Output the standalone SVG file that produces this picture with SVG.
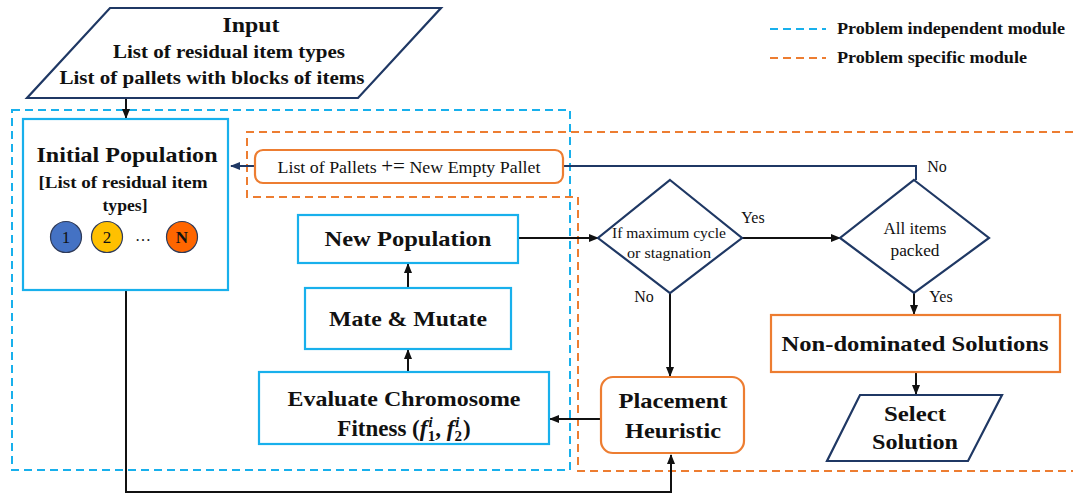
<svg xmlns="http://www.w3.org/2000/svg" width="1073" height="496" viewBox="0 0 1073 496" font-family="'Liberation Serif','DejaVu Serif',serif">
<style>
text{font-family:"Liberation Serif","DejaVu Serif",serif;fill:#111;text-anchor:middle}
.b{font-weight:bold}
.blue{fill:#fff;stroke:#18B0EC;stroke-width:2.2}
.org{fill:#fff;stroke:#ED7D31;stroke-width:2.2}
.navy{fill:#fff;stroke:#1F3864;stroke-width:2.2}
.dblue{fill:none;stroke:#18B0EC;stroke-width:2;stroke-dasharray:8 5}
.dorg{fill:none;stroke:#ED7D31;stroke-width:2;stroke-dasharray:8 5}
.c{fill:none;stroke:#111;stroke-width:2}
.cn{fill:none;stroke:#1F3864;stroke-width:2}
</style>
<defs>
<marker id="ah" markerWidth="10" markerHeight="10" refX="9" refY="5" orient="auto" markerUnits="userSpaceOnUse"><path d="M0,1 L10,5 L0,9 z" fill="#111"/></marker>
<marker id="ahn" markerWidth="10" markerHeight="10" refX="9" refY="5" orient="auto" markerUnits="userSpaceOnUse"><path d="M0,1 L10,5 L0,9 z" fill="#1F3864"/></marker>
</defs>
<rect width="1073" height="496" fill="#fff"/>

<g id="modules">
<rect class="dblue" x="12" y="110" width="558" height="360"/>
<path class="dorg" d="M1073,132 H247 V197 H578 V471 H1073"/>
</g>

<g id="legend">
<line class="dblue" x1="770" y1="29" x2="826" y2="29"/>
<text class="b" x="837" y="34" font-size="16" style="text-anchor:start" textLength="228" lengthAdjust="spacingAndGlyphs">Problem independent module</text>
<line class="dorg" x1="770" y1="58" x2="826" y2="58"/>
<text class="b" x="837" y="63" font-size="16" style="text-anchor:start" textLength="190" lengthAdjust="spacingAndGlyphs">Problem specific module</text>
</g>

<g id="connectors">
<line class="c" x1="126" y1="98" x2="126" y2="118" marker-end="url(#ah)"/>
<line class="cn" x1="255" y1="166" x2="231" y2="166" marker-end="url(#ahn)"/>
<polyline class="cn" points="563,166 916,166 916,180"/>
<line class="c" x1="408" y1="372" x2="408" y2="350" marker-end="url(#ah)"/>
<line class="c" x1="408" y1="288" x2="408" y2="264" marker-end="url(#ah)"/>
<line class="c" x1="518" y1="238" x2="598" y2="238" marker-end="url(#ah)"/>
<line class="c" x1="742" y1="238" x2="840" y2="238" marker-end="url(#ah)"/>
<line class="c" x1="670" y1="293" x2="670" y2="376" marker-end="url(#ah)"/>
<line class="c" x1="914" y1="293" x2="914" y2="314" marker-end="url(#ah)"/>
<line class="c" x1="916" y1="372" x2="916" y2="394" marker-end="url(#ah)"/>
<line class="c" x1="601" y1="419" x2="550" y2="419" marker-end="url(#ah)"/>
<polyline class="c" points="126,290 126,492 671,492 671,455" marker-end="url(#ah)"/>
<text x="753" y="223" font-size="16">Yes</text>
<text x="644" y="302" font-size="16" fill="#333">No</text>
<text x="941" y="302" font-size="16" fill="#333">Yes</text>
<text x="937" y="172" font-size="16">No</text>
</g>

<g id="input">
<polygon class="navy" points="110,8 441,8 358,98 27,98"/>
<text class="b" x="251" y="32" font-size="22" textLength="57" lengthAdjust="spacingAndGlyphs">Input</text>
<text class="b" x="229" y="58" font-size="18" textLength="232" lengthAdjust="spacingAndGlyphs">List of residual item types</text>
<text class="b" x="212" y="84" font-size="18" textLength="305" lengthAdjust="spacingAndGlyphs">List of pallets with blocks of items</text>
</g>

<g id="initial-population">
<rect class="blue" x="23" y="119" width="205" height="171"/>
<text class="b" x="127" y="162" font-size="22" textLength="181" lengthAdjust="spacingAndGlyphs">Initial Population</text>
<text class="b" x="123" y="188" font-size="16" textLength="169" lengthAdjust="spacingAndGlyphs">[List of residual item</text>
<text class="b" x="125" y="211" font-size="16" textLength="45" lengthAdjust="spacingAndGlyphs">types]</text>
<circle cx="66" cy="237" r="15.5" fill="#4472C4" stroke="#2F3B59" stroke-width="1.2"/>
<text x="66" y="243" font-size="17" fill="#fff">1</text>
<circle cx="107" cy="237" r="15.5" fill="#FFC000" stroke="#2F3B59" stroke-width="1.2"/>
<text x="107" y="243" font-size="17" fill="#fff">2</text>
<text x="143" y="241" font-size="16">…</text>
<circle cx="182" cy="237" r="15.5" fill="#FF6600" stroke="#2F3B59" stroke-width="1.2"/>
<text class="b" x="182" y="243" font-size="17" fill="#fff">N</text>
</g>

<g id="new-pallet">
<rect class="org" x="255" y="150" width="308" height="33" rx="8"/>
<text x="409" y="173" font-size="17" textLength="263" lengthAdjust="spacingAndGlyphs">List of Pallets <tspan font-size="20">+=</tspan> New Empty Pallet</text>
</g>

<g id="new-population">
<rect class="blue" x="298" y="215" width="220" height="48"/>
<text class="b" x="408" y="246" font-size="22" textLength="167" lengthAdjust="spacingAndGlyphs">New Population</text>
</g>

<g id="mate-mutate">
<rect class="blue" x="305" y="288" width="206" height="61"/>
<text class="b" x="408" y="326" font-size="22" textLength="158" lengthAdjust="spacingAndGlyphs">Mate &amp; Mutate</text>
</g>

<g id="evaluate">
<rect class="blue" x="259" y="372" width="290" height="72"/>
<text class="b" x="404" y="406" font-size="22" textLength="233" lengthAdjust="spacingAndGlyphs">Evaluate Chromosome</text>
<text class="b" x="404" y="436" font-size="23">Fitness (<tspan font-style="italic">f</tspan><tspan font-size="15" dx="1" dy="-9" font-style="italic">i</tspan><tspan font-size="15" dx="-5" dy="14">1</tspan><tspan dy="-5">, </tspan><tspan font-style="italic">f</tspan><tspan font-size="15" dx="1" dy="-9" font-style="italic">i</tspan><tspan font-size="15" dx="-5" dy="14">2</tspan><tspan dx="1" dy="-5">)</tspan></text>
</g>

<g id="decision-stop">
<polygon class="navy" points="670,180 742,238 670,293 598,238"/>
<text x="669" y="238" font-size="15" textLength="114" lengthAdjust="spacingAndGlyphs">If maximum cycle</text>
<text x="669" y="258" font-size="15" textLength="84" lengthAdjust="spacingAndGlyphs">or stagnation</text>
</g>

<g id="decision-packed">
<polygon class="navy" points="914,180 989,238 914,293 840,238"/>
<text x="915" y="234" font-size="16" textLength="63" lengthAdjust="spacingAndGlyphs">All items</text>
<text x="915" y="256" font-size="16" textLength="49" lengthAdjust="spacingAndGlyphs">packed</text>
</g>

<g id="placement">
<rect class="org" x="601" y="377" width="143" height="76" rx="12"/>
<text class="b" x="673" y="408" font-size="22" textLength="109" lengthAdjust="spacingAndGlyphs">Placement</text>
<text class="b" x="673" y="438" font-size="22" textLength="96" lengthAdjust="spacingAndGlyphs">Heuristic</text>
</g>

<g id="non-dominated">
<rect class="org" x="771" y="315" width="289" height="57"/>
<text class="b" x="915" y="351" font-size="22" textLength="267" lengthAdjust="spacingAndGlyphs">Non-dominated Solutions</text>
</g>

<g id="select-solution">
<polygon class="navy" points="860,395 1002,395 968,461 827,461"/>
<text class="b" x="915" y="421" font-size="22" textLength="62" lengthAdjust="spacingAndGlyphs">Select</text>
<text class="b" x="915" y="449" font-size="22" textLength="86" lengthAdjust="spacingAndGlyphs">Solution</text>
</g>
</svg>
